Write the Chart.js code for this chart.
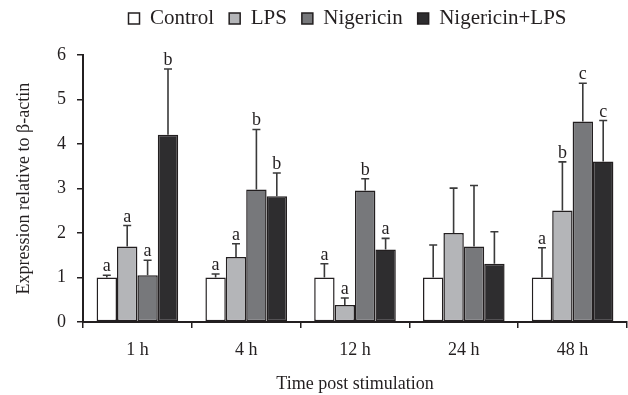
<!DOCTYPE html>
<html lang="en">
    <head>
        <meta charset="UTF-8">
        <title>Expression relative to beta-actin</title>
        <style>
            html, body { margin: 0; padding: 0; background: #ffffff; }
            #wrap { width: 628px; height: 395px; }
        </style>
    </head>

    <script src="https://cdn.jsdelivr.net/npm/chart.js"></script>

    <body>
        <div id="wrap"><canvas id="myChart" width="628" height="395"></canvas></div>
    </body>

    <script>
        // Categories (time points)
        const timePoints = ['1 h', '4 h', '12 h', '24 h', '48 h'];

        // Mean expression per group
        const control = [1.00, 1.00, 1.00, 1.00, 1.00];
        const lps = [1.70, 1.46, 0.38, 2.00, 2.51];
        const nigericin = [1.05, 2.98, 2.96, 1.70, 4.51];
        const nigLps = [4.21, 2.83, 1.63, 1.31, 3.61];

        // Standard deviations (only upper bar drawn)
        const controlSd = [0.05, 0.08, 0.31, 0.73, 0.67];
        const lpsSd = [0.47, 0.30, 0.16, 1.01, 1.09];
        const nigericinSd = [0.34, 1.35, 0.26, 1.37, 0.86];
        const nigLpsSd = [1.48, 0.52, 0.25, 0.72, 0.92];

        // Significance letters
        const controlSig = ['a', 'a', 'a', '', 'a'];
        const lpsSig = ['a', 'a', 'a', '', 'b'];
        const nigericinSig = ['a', 'b', 'b', '', 'c'];
        const nigLpsSig = ['b', 'b', 'a', '', 'c'];

        const yTicks = [0, 1, 2, 3, 4, 5, 6];

        const serif = "'Liberation Serif', 'Times New Roman', serif";
        const ink = '#231f20';

        //Error bars with a cap and the letter above
        const errorBars = {
            id: 'errorBars',
            afterDatasetsDraw(chart) {
                const ctx = chart.ctx;
                const y = chart.scales.y;
                chart.data.datasets.forEach((ds, i) => {
                    const meta = chart.getDatasetMeta(i);
                    meta.data.forEach((bar, j) => {
                        const top = y.getPixelForValue(ds.data[j] + ds.sd[j]);
                        ctx.save();
                        ctx.strokeStyle = '#3a3a3a';
                        ctx.lineWidth = 1.6;
                        ctx.beginPath();
                        ctx.moveTo(bar.x, bar.y);
                        ctx.lineTo(bar.x, top);
                        ctx.moveTo(bar.x - 4, top);
                        ctx.lineTo(bar.x + 4, top);
                        ctx.stroke();
                        if (ds.sig[j]) {
                            ctx.fillStyle = ink;
                            ctx.font = '18px ' + serif;
                            ctx.textAlign = 'center';
                            ctx.textBaseline = 'alphabetic';
                            ctx.fillText(ds.sig[j], bar.x, top - 4);
                        }
                        ctx.restore();
                    });
                });
            }
        };

        //Legend sits a bit right of the canvas centre
        const legendShift = {
            id: 'legendShift',
            afterLayout(chart) {
                chart.legend.left += 34;
                chart.legend.right += 34;
            }
        };

        function makeSet(label, data, sd, sig, colour) {
            return {
                label: label,
                data: data,
                sd: sd,
                sig: sig,
                backgroundColor: colour,
                borderColor: ink,
                borderWidth: 1.5,
                borderSkipped: false,
                barPercentage: 1.0,
                categoryPercentage: 0.75
            };
        }

        var ctx = document.getElementById('myChart').getContext('2d');
        var myChart = new Chart(ctx, {
            type: 'bar',
            data: {
                labels: timePoints,
                datasets: [
                    makeSet('Control', control, controlSd, controlSig, '#ffffff'),
                    makeSet('LPS', lps, lpsSd, lpsSig, '#b4b5b8'),
                    makeSet('Nigericin', nigericin, nigericinSd, nigericinSig, '#77787b'),
                    makeSet('Nigericin+LPS', nigLps, nigLpsSd, nigLpsSig, '#2e2d2f')
                ]
            },
            options: {
                responsive: false,
                animation: false,
                layout: { padding: { top: -7, right: 1, left: 0, bottom: 0 } },
                plugins: {
                    tooltip: { enabled: false },
                    legend: {
                        position: 'top',
                        labels: {
                            color: ink,
                            font: { family: serif, size: 21 },
                            boxWidth: 11,
                            boxHeight: 11,
                            padding: 15
                        }
                    },
                    // empty spacer between legend and plot
                    subtitle: {
                        display: true,
                        text: '',
                        weight: 500,
                        font: { size: 1 },
                        padding: { top: 0, bottom: 15 }
                    }
                },
                scales: {
                    x: {
                        afterFit: scale => { scale.height = 73; },
                        grid: {
                            drawOnChartArea: false,
                            color: ink,
                            tickLength: 6,
                            lineWidth: 1.5
                        },
                        border: { color: ink, width: 2 },
                        ticks: { color: ink, font: { family: serif, size: 18 }, padding: 11 },
                        title: {
                            display: true,
                            text: 'Time post stimulation',
                            color: ink,
                            font: { family: serif, size: 18 },
                            padding: { top: 0, bottom: 0 }
                        }
                    },
                    y: {
                        min: 0,
                        max: 6,
                        afterFit: scale => { scale.width = 83; },
                        afterBuildTicks: scale => { scale.ticks = yTicks.map(v => ({ value: v })); },
                        grid: {
                            drawOnChartArea: false,
                            color: ink,
                            tickLength: 6,
                            lineWidth: 1.5
                        },
                        border: { color: ink, width: 2 },
                        ticks: { color: ink, font: { family: serif, size: 18 }, padding: 11 },
                        title: {
                            display: true,
                            text: 'Expression relative to β-actin',
                            color: ink,
                            font: { family: serif, size: 18 },
                            padding: { top: 13, bottom: 0 }
                        }
                    }
                }
            },
            plugins: [errorBars, legendShift]
        });
    </script>
</html>
